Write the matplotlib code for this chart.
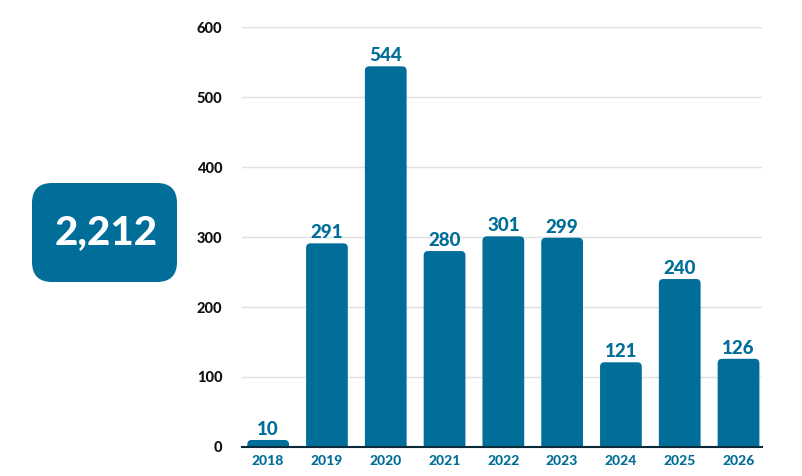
import matplotlib.pyplot as plt
from matplotlib.patches import FancyBboxPatch, PathPatch
from matplotlib.path import Path

years = ["2018", "2019", "2020", "2021", "2022", "2023", "2024", "2025", "2026"]
counts = [10, 291, 544, 280, 301, 299, 121, 240, 126]
total_label = "2,212"

BLUE = "#006e98"
plt.rcParams["font.family"] = ["Lato", "DejaVu Sans"]


def top_rounded_bar(x0, w, h, rx, ry):
    # rectangle with rounded top corners (quadratic curves)
    ry = min(ry, h)
    verts = [(x0, 0), (x0, h - ry), (x0, h), (x0 + rx, h),
             (x0 + w - rx, h), (x0 + w, h), (x0 + w, h - ry),
             (x0 + w, 0), (x0, 0)]
    codes = [Path.MOVETO, Path.LINETO, Path.CURVE3, Path.CURVE3,
             Path.LINETO, Path.CURVE3, Path.CURVE3,
             Path.LINETO, Path.CLOSEPOLY]
    return Path(verts, codes)


fig = plt.figure(figsize=(8.03, 4.76), dpi=100)
ax = fig.add_axes([0.301, 0.061, 0.648, 0.882])

width = 0.71
ax.set_xlim(-0.45, 8.4)
ax.set_ylim(0, 600)

for i, v in enumerate(counts):
    path = top_rounded_bar(i - width / 2, width, v, 0.075, 6.5)
    ax.add_patch(PathPatch(path, fc=BLUE, ec="none", zorder=3))
    ax.text(i, v + 3, str(v), ha="center", va="bottom", color=BLUE,
            fontsize=13.5, fontweight="black", zorder=4)

ax.set_yticks(range(0, 601, 100))
ax.yaxis.grid(True, color="#e0e0e0", lw=1, zorder=0)
ax.set_axisbelow(True)
ax.set_xticks(range(len(years)))
ax.set_xticklabels(years, color=BLUE, fontweight="black", fontsize=10)
for t in ax.get_yticklabels():
    t.set_fontweight("black")
    t.set_fontsize(10.5)
    t.set_color("#111111")
ax.tick_params(axis="both", length=0)
ax.tick_params(axis="x", pad=6)
ax.tick_params(axis="y", pad=14)
for s in ["top", "right", "left"]:
    ax.spines[s].set_visible(False)
ax.spines["bottom"].set_color("#0b2a3a")
ax.spines["bottom"].set_linewidth(1.5)
ax.spines["bottom"].set_zorder(5)

# total box on the left
box = FancyBboxPatch((32 / 803, 1 - 282 / 476), 145 / 803, 99 / 476,
                     boxstyle="round,pad=0,rounding_size=0.025",
                     mutation_aspect=803 / 476,
                     transform=fig.transFigure, fc=BLUE, ec="none")
fig.patches.append(box)
fig.text(106 / 803, 1 - 233 / 476, total_label, ha="center", va="center",
         color="white", fontsize=29, fontweight="black")

fig.savefig("out.png", dpi=100)
